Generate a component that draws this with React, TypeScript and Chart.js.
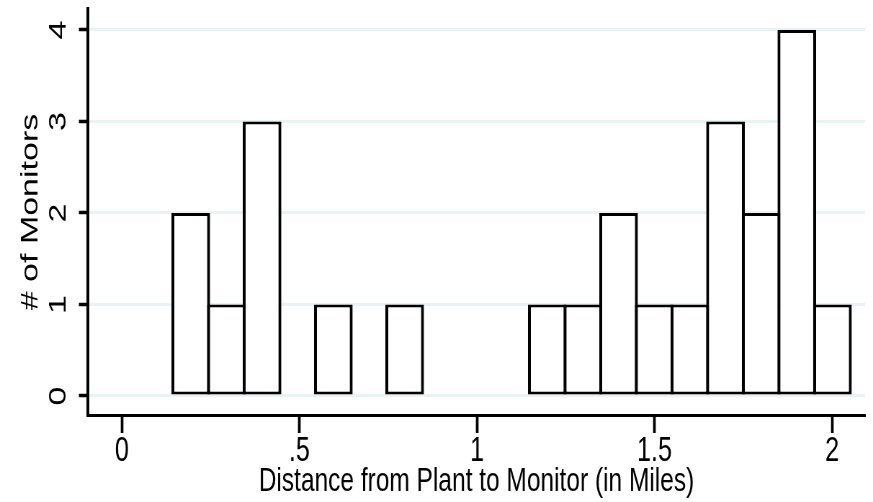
import React, { useEffect, useRef } from 'react';
import { Chart, registerables } from 'chart.js';

Chart.register(...registerables);

// ---- data ----
const binStart = 0.1437;
const binWidth = 0.1004;
const counts = [2, 1, 3, 0, 1, 0, 1, 0, 0, 0, 1, 1, 2, 1, 1, 3, 2, 4, 1];
const xTickValues = [0, 0.5, 1, 1.5, 2];
const xTickLabels = ['0', '.5', '1', '1.5', '2'];
const yTickValues = [0, 1, 2, 3, 4];
const yTickLabels = ['0', '1', '2', '3', '4'];
const xTitle = 'Distance from Plant to Monitor (in Miles)';
const yTitle = '# of Monitors';

// ---- layout / style ----
const W = 873;
const H = 502;
const SX = 0.7203; // horizontal squeeze of the original picture
const CW = Math.round(W / SX);
const FONT = "'Liberation Sans', Arial, Helvetica, sans-serif";
const GRID = '#e9f2f4';
const VLINE = 4.2; // vertical edge width in canvas units (~3px after squeeze)

export default function App() {
  const ref = useRef<HTMLCanvasElement>(null);

  useEffect(() => {
    document.body.style.margin = '0';
    const canvas = ref.current;
    if (!canvas) return;
    const points = counts.map((c, i) => ({ x: binStart + (i + 0.5) * binWidth, y: c }));
    const xMin = -0.0958;
    const xMax = 2.093;
    const plotW = CW - 122 - 11;
    const pxPerUnit = plotW / (xMax - xMin);
    const barPct = 1 + VLINE / (binWidth * pxPerUnit);

    const chart = new Chart(canvas, {
      type: 'bar',
      data: {
        datasets: [
          {
            data: points as any,
            backgroundColor: '#ffffff',
            borderColor: '#000000',
            borderWidth: { top: 3, bottom: 3, left: VLINE, right: VLINE } as any,
            borderSkipped: false,
            inflateAmount: 0,
            barPercentage: barPct,
            categoryPercentage: 1,
          },
        ],
      },
      options: {
        responsive: false,
        animation: false,
        devicePixelRatio: 1,
        events: [],
        layout: { padding: { top: 9, right: 11, bottom: 0, left: 0 } },
        plugins: {
          legend: { display: false },
          tooltip: { enabled: false },
        },
        scales: {
          x: {
            type: 'linear',
            offset: false,
            min: xMin,
            max: xMax,
            afterBuildTicks: (scale: any) => {
              scale.ticks = xTickValues.map((v) => ({ value: v }));
            },
            afterFit: (scale: any) => {
              scale.height = H - 415;
              scale.paddingLeft = 0;
              scale.paddingRight = 0;
            },
            grid: {
              display: true,
              offset: false,
              drawOnChartArea: false,
              drawTicks: true,
              tickLength: 18,
              tickWidth: 3.7,
              tickColor: '#000000',
            },
            border: { display: true, color: '#000000', width: 3 },
            ticks: {
              autoSkip: false,
              maxRotation: 0,
              minRotation: 0,
              padding: -3,
              color: '#000000',
              font: { family: FONT, size: 35 },
              callback: (_v: any, i: number) => xTickLabels[i],
            },
            title: {
              display: true,
              text: xTitle,
              color: '#000000',
              font: { family: FONT, size: 34 },
              padding: { top: 0, bottom: 0 },
            },
          },
          y: {
            type: 'linear',
            min: -0.2077,
            max: 4.2295,
            afterBuildTicks: (scale: any) => {
              scale.ticks = yTickValues.map((v) => ({ value: v }));
            },
            afterFit: (scale: any) => {
              scale.width = 122;
              scale.paddingTop = 0;
              scale.paddingBottom = 0;
            },
            grid: {
              display: true,
              drawOnChartArea: true,
              color: GRID,
              lineWidth: 3,
              drawTicks: true,
              tickLength: 12.5,
              tickWidth: 3.5,
              tickColor: '#000000',
            },
            border: { display: true, color: '#000000', width: 4 },
            ticks: {
              autoSkip: false,
              minRotation: 90,
              maxRotation: 90,
              crossAlign: 'center',
              padding: 18,
              color: '#000000',
              font: { family: FONT, size: 34 },
              callback: (_v: any, i: number) => yTickLabels[i],
            },
            title: {
              display: true,
              text: yTitle,
              color: '#000000',
              font: { family: FONT, size: 34 },
              padding: { top: 22.6, bottom: 0 },
            },
          },
        },
      },
    });
    return () => chart.destroy();
  }, []);

  return (
    <div
      style={{
        position: 'fixed',
        left: 0,
        top: 0,
        width: W,
        height: H,
        overflow: 'hidden',
        background: '#ffffff',
      }}
    >
      <canvas
        ref={ref}
        width={CW}
        height={H}
        style={{
          display: 'block',
          width: CW,
          height: H,
          transform: `scaleX(${SX})`,
          transformOrigin: '0 0',
        }}
      />
    </div>
  );
}
